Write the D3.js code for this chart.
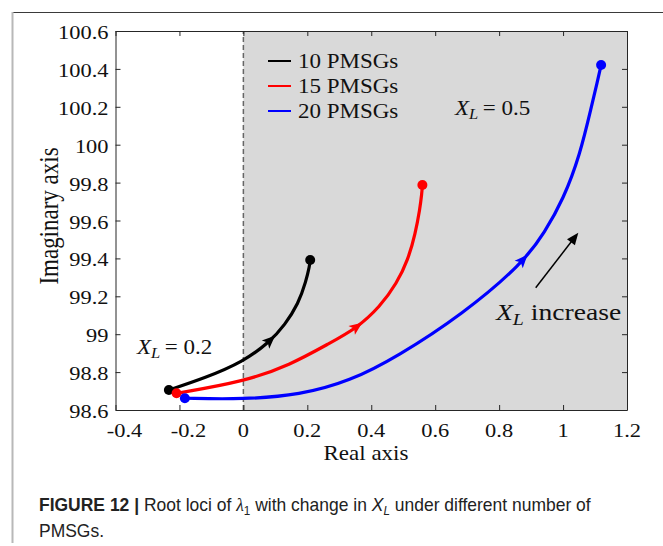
<!DOCTYPE html>
<html>
<head>
<meta charset="utf-8">
<script src="https://cdn.jsdelivr.net/npm/d3@7"></script>
<style>
  html, body { margin: 0; padding: 0; background: #fff; }
  svg { display: block; }
</style>
</head>
<body>
<svg id="chart" width="663" height="546"></svg>
<script>
// ---------------- data ----------------
const xTicks = [-0.4, -0.2, 0, 0.2, 0.4, 0.6, 0.8, 1, 1.2];
const yTicks = [98.6, 98.8, 99, 99.2, 99.4, 99.6, 99.8, 100, 100.2, 100.4, 100.6];
const seriesNames = ["10 PMSGs", "15 PMSGs", "20 PMSGs"];
const seriesColors = ["#000000", "#ff0000", "#0000ff"];

const blackX = [-0.233, -0.120, 0, 0.083, 0.130, 0.172, 0.196, 0.207, 0.209];
const blackY = [98.706, 98.769, 98.855, 98.960, 99.050, 99.160, 99.280, 99.360, 99.392];

const redX = [-0.209, 0, 0.146, 0.271, 0.354, 0.427, 0.480, 0.515, 0.538, 0.552, 0.558, 0.560];
const redY = [98.688, 98.749, 98.837, 98.954, 99.031, 99.144, 99.269, 99.392, 99.532, 99.660, 99.740, 99.787];

const blueX = [-0.183, 0, 0.177, 0.334, 0.480, 0.687, 0.874, 0.943, 1.001, 1.053, 1.090, 1.107, 1.119];
const blueY = [98.662, 98.656, 98.679, 98.753, 98.880, 99.107, 99.374, 99.539, 99.713, 99.946, 100.210, 100.330, 100.421];

const arrowX = [0.083, 0.354, 0.874];   // where the direction arrows sit on each locus

const xDomain = [-0.4, 1.2];
const yDomain = [98.6, 100.6];

// ---------------- layout ----------------
const svg = d3.select("#chart");
const plot = { left: 115.5, right: 627, top: 31, bottom: 410 };
const x = d3.scaleLinear().domain(xDomain).range([plot.left, plot.right]);
const y = d3.scaleLinear().domain(yDomain).range([plot.bottom, plot.top]);

const SERIF = "'Liberation Serif', 'Times New Roman', serif";
const SANS = "'Liberation Sans', Arial, sans-serif";
const SX = 1.15;   // horizontal stretch of the figure's text
const axisColor = "#262626";

// figure frame
svg.append("line").attr("x1", 12.5).attr("x2", 663).attr("y1", 12.5).attr("y2", 12.5)
  .attr("stroke", "#3a3a3a").attr("stroke-width", 1);
svg.append("line").attr("x1", 12.5).attr("x2", 12.5).attr("y1", 12).attr("y2", 543)
  .attr("stroke", "#b8b8b8").attr("stroke-width", 2);

// gray unstable region
svg.append("rect")
  .attr("x", x(0)).attr("y", y(yDomain[1]))
  .attr("width", x(xDomain[1]) - x(0)).attr("height", y(yDomain[0]) - y(yDomain[1]))
  .attr("fill", "#d9d9d9");

// dashed imaginary axis
svg.append("line")
  .attr("x1", x(0)).attr("x2", x(0)).attr("y1", y(yDomain[0])).attr("y2", y(yDomain[1]))
  .attr("stroke", "#666").attr("stroke-width", 1.5).attr("stroke-dasharray", "5,3");

// axes (box with inward ticks)
const tickLen = 5;
const axB = svg.append("g").attr("transform", `translate(0,${plot.bottom})`)
  .call(d3.axisBottom(x).tickValues(xTicks).tickSizeInner(-tickLen).tickSizeOuter(0).tickFormat(""));
const axT = svg.append("g").attr("transform", `translate(0,${plot.top})`)
  .call(d3.axisTop(x).tickValues(xTicks).tickSizeInner(-tickLen).tickSizeOuter(0).tickFormat(""));
const axL = svg.append("g").attr("transform", `translate(${plot.left},0)`)
  .call(d3.axisLeft(y).tickValues(yTicks).tickSizeInner(-tickLen).tickSizeOuter(0).tickFormat(""));
const axR = svg.append("g").attr("transform", `translate(${plot.right},0)`)
  .call(d3.axisRight(y).tickValues(yTicks).tickSizeInner(-tickLen).tickSizeOuter(0).tickFormat(""));
[axB, axT, axL, axR].forEach(g => {
  g.selectAll("path, line").attr("stroke", axisColor).attr("stroke-width", 1);
});

// stretched serif text helper
function stext(px, py, str, size, anchor) {
  const t = svg.append("text")
    .attr("transform", `translate(${px},${py}) scale(${SX},1)`)
    .attr("font-family", SERIF).attr("font-size", size)
    .attr("text-anchor", anchor || "start").attr("fill", "#111");
  if (str !== null) t.text(str);
  return t;
}

// tick labels
const fmt = v => String(+v.toFixed(1));
xTicks.forEach(v => stext(x(v) + (v < 0 ? 9 : 0), plot.bottom + 27, fmt(v), 19.5, "middle"));
yTicks.forEach(v => stext(plot.left - 7, y(v) + 8, fmt(v), 19.5, "end"));

// axis titles
stext(366, 460, "Real axis", 20, "middle");
svg.append("text")
  .attr("transform", `translate(58,216) rotate(-90) scale(1,${SX})`)
  .attr("font-family", SERIF).attr("font-size", 23).attr("text-anchor", "middle")
  .attr("fill", "#111").text("Imaginary axis");

// loci
const seriesX = [blackX, redX, blueX];
const seriesY = [blackY, redY, blueY];
const line = d3.line().x(d => x(d[0])).y(d => y(d[1])).curve(d3.curveBasis);

seriesX.forEach((xs, i) => {
  const pts = xs.map((v, k) => [v, seriesY[i][k]]);
  const path = svg.append("path").datum(pts)
    .attr("d", line).attr("fill", "none")
    .attr("stroke", seriesColors[i]).attr("stroke-width", 3.2)
    .attr("stroke-linecap", "round").attr("stroke-linejoin", "round");
  // end points
  [pts[0], pts[pts.length - 1]].forEach(p => {
    svg.append("circle").attr("cx", x(p[0])).attr("cy", y(p[1])).attr("r", 5)
      .attr("fill", seriesColors[i]);
  });
  // direction arrow on the curve
  const node = path.node();
  const L = node.getTotalLength();
  const tx = x(arrowX[i]);
  let lo = 0, hi = L;
  for (let k = 0; k < 40; k++) {
    const mid = (lo + hi) / 2;
    if (node.getPointAtLength(mid).x < tx) lo = mid; else hi = mid;
  }
  const p0 = node.getPointAtLength(Math.max(0, lo - 3));
  const p1 = node.getPointAtLength(Math.min(L, lo + 3));
  const pc = node.getPointAtLength(lo);
  const ang = Math.atan2(p1.y - p0.y, p1.x - p0.x) * 180 / Math.PI;
  svg.append("path")
    .attr("d", "M7,0 L-6,-5.5 L-3,0 L-6,5.5 Z")
    .attr("transform", `translate(${pc.x},${pc.y}) rotate(${ang})`)
    .attr("fill", seriesColors[i]);
});

// legend
seriesNames.forEach((name, i) => {
  const ly = 61 + i * 25;
  svg.append("line").attr("x1", 268).attr("x2", 291).attr("y1", ly).attr("y2", ly)
    .attr("stroke", seriesColors[i]).attr("stroke-width", 2);
  stext(298, ly + 7, name, 20, "start");
});

// X_L annotations
function xlText(px, py, rest, size) {
  const t = stext(px, py, null, size, "start");
  t.append("tspan").attr("font-style", "italic").text("X");
  t.append("tspan").attr("font-style", "italic").attr("font-size", size * 0.72)
    .attr("dy", size * 0.22).text("L");
  t.append("tspan").attr("dy", -size * 0.22).text(rest);
  return t;
}
xlText(455, 115, "\u2009= 0.5", 20);
xlText(137, 354, "\u2009= 0.2", 20);
xlText(496, 320, " increase", 24);

// big arrow "X_L increase"
const ax0 = [535.7, 287.7], ax1 = [578.3, 232.7];
const aAng = Math.atan2(ax1[1] - ax0[1], ax1[0] - ax0[0]) * 180 / Math.PI;
svg.append("line").attr("x1", ax0[0]).attr("y1", ax0[1])
  .attr("x2", ax1[0] - 9 * Math.cos(aAng * Math.PI / 180))
  .attr("y2", ax1[1] - 9 * Math.sin(aAng * Math.PI / 180))
  .attr("stroke", "#000").attr("stroke-width", 1.5);
svg.append("path").attr("d", "M0,0 L-12,-5 L-12,5 Z")
  .attr("transform", `translate(${ax1[0]},${ax1[1]}) rotate(${aAng})`)
  .attr("fill", "#000");

// caption
const cap1 = svg.append("text")
  .attr("font-family", SANS).attr("font-size", 18).attr("fill", "#222");
cap1.append("tspan").attr("font-weight", "bold").text("FIGURE 12 | ");
cap1.append("tspan").text("Root loci of ");
cap1.append("tspan").attr("font-family", SERIF).attr("font-style", "italic").text("\u03bb");
cap1.append("tspan").attr("font-size", 12).attr("dy", 4).text("1");
cap1.append("tspan").attr("dy", -4).text(" with change in ");
cap1.append("tspan").attr("font-style", "italic").text("X");
cap1.append("tspan").attr("font-style", "italic").attr("font-size", 12).attr("dy", 4).text("L");
cap1.append("tspan").attr("dy", -4).text(" under different number of");
const capW = cap1.node().getComputedTextLength();
const capS = 552 / capW;
cap1.attr("transform", `translate(39,511) scale(${capS},1)`);

svg.append("text")
  .attr("transform", `translate(39,537) scale(${capS},1)`)
  .attr("font-family", SANS).attr("font-size", 18).attr("fill", "#222")
  .text("PMSGs.");
</script>
</body>
</html>
